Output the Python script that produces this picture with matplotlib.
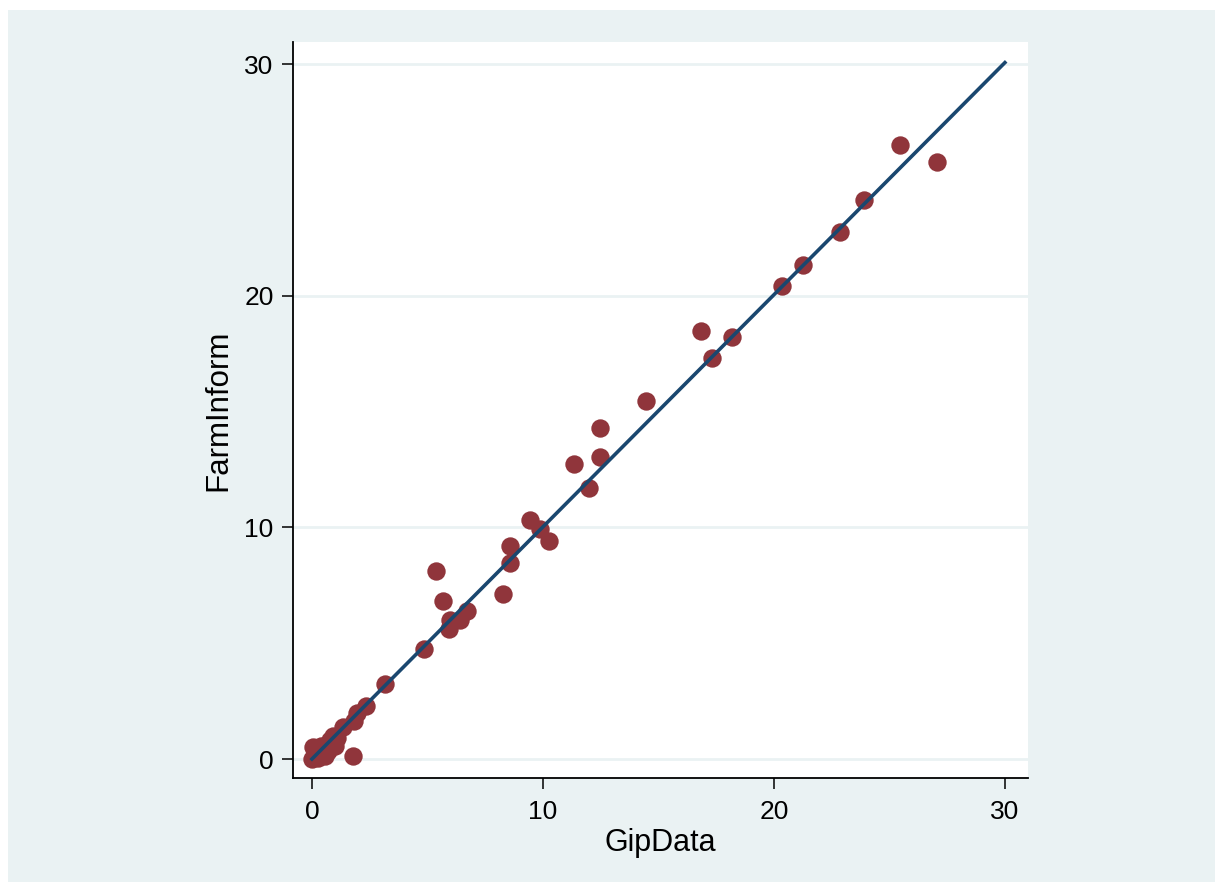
import matplotlib.pyplot as plt
from matplotlib.patches import Rectangle

plt.rcParams['font.family'] = ['Liberation Sans', 'DejaVu Sans']

# GipData (x) vs FarmInform (y)
gip = [0.0, 0.05, 0.15, 0.3, 0.4, 0.5, 0.6, 0.7, 0.8, 0.9, 1.0, 1.1,
       0.25, 0.55, 1.35, 1.77, 1.8, 1.95, 2.35, 3.15, 4.84, 5.36, 5.67,
       5.93, 5.97, 6.40, 6.70, 8.26, 8.56, 8.56, 9.43, 9.86, 10.25,
       11.33, 11.98, 12.46, 12.46, 14.45, 16.83, 17.30, 18.17, 20.37,
       21.24, 22.88, 23.92, 25.48, 27.08]
farm = [0.0, 0.5, 0.1, 0.3, 0.55, 0.2, 0.6, 0.35, 0.8, 1.0, 0.55, 0.9,
        0.05, 0.15, 1.4, 0.13, 1.65, 2.0, 2.3, 3.22, 4.75, 8.12, 6.83,
        5.62, 6.0, 6.0, 6.39, 7.13, 8.47, 9.20, 10.32, 9.94, 9.42,
        12.74, 11.71, 13.05, 14.30, 15.46, 18.49, 17.32, 18.23, 20.43,
        21.34, 22.76, 24.15, 26.52, 25.79]

# fitted line endpoints
fit_x = [0, 30]
fit_y = [0, 30.08]

ticks = [0, 10, 20, 30]

bg = '#eaf2f3'
fig = plt.figure(figsize=(12.15, 8.82), dpi=100)
fig.add_artist(Rectangle((8 / 1215, 0), 1, (882 - 10) / 882,
                         transform=fig.transFigure, facecolor=bg,
                         edgecolor='none', zorder=-10))

ax = fig.add_axes([293 / 1215, 1 - 778 / 882, 735 / 1215, 736 / 882])
ax.set_facecolor('white')

ax.scatter(gip, farm, s=175, color='#90353b', linewidths=0, zorder=3)
ax.plot(fit_x, fit_y, color='#1a476f', lw=2.6, zorder=4)

ax.set_xlim(-0.82, 31.0)
ax.set_ylim(-0.82, 30.97)
ax.set_xticks(ticks)
ax.set_yticks(ticks)
ax.set_yticklabels([str(t) for t in ticks])
ax.set_xticklabels([str(t) for t in ticks])

for t in ticks:
    ax.axhline(t, color=bg, lw=2, zorder=1)

for s in ['top', 'right']:
    ax.spines[s].set_visible(False)
for s in ['left', 'bottom']:
    ax.spines[s].set_linewidth(1.3)
    ax.spines[s].set_color('black')

ax.tick_params(axis='both', direction='out', length=8, width=1.1,
               labelsize=19, color='black')
ax.tick_params(axis='x', pad=8)
ax.tick_params(axis='y', pad=6)

ax.set_xlabel('GipData', fontsize=22, labelpad=3)
ax.set_ylabel('FarmInform', fontsize=22.5, labelpad=8)

fig.savefig('out.png', dpi=100, facecolor='white')
